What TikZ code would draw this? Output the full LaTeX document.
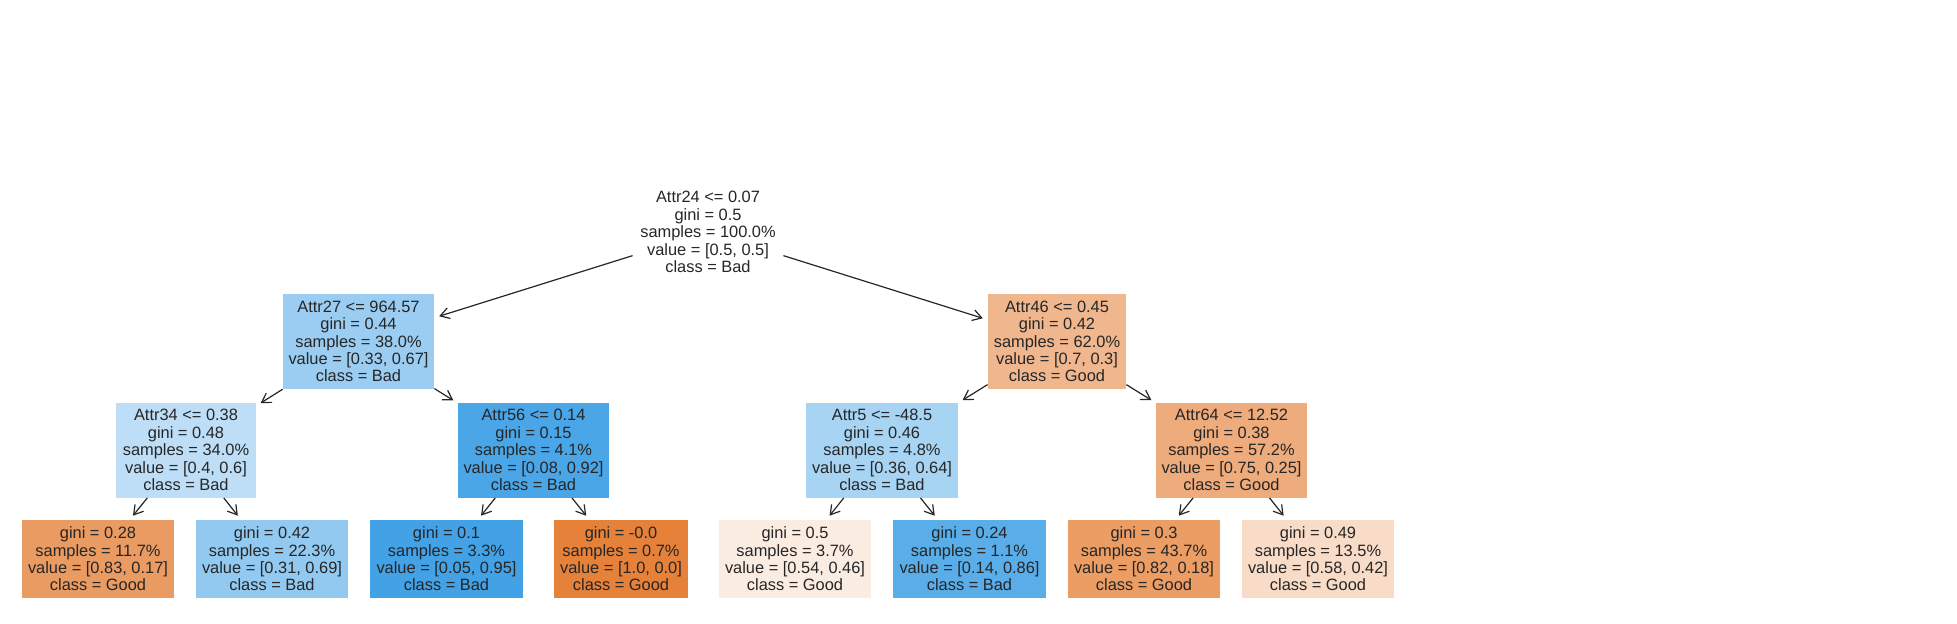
\documentclass[tikz,border=0pt]{standalone}
\usepackage{fontspec}
\setmainfont{Liberation Sans}
\usetikzlibrary{arrows.meta}
\definecolor{txt}{RGB}{38,38,38}
\definecolor{c27}{RGB}{155,205,242}
\definecolor{c46}{RGB}{240,183,142}
\definecolor{c34}{RGB}{189,222,246}
\definecolor{c56}{RGB}{74,166,231}
\definecolor{c5}{RGB}{168,212,244}
\definecolor{c64}{RGB}{238,171,123}
\definecolor{l1c}{RGB}{234,155,98}
\definecolor{l2c}{RGB}{146,201,241}
\definecolor{l3c}{RGB}{67,162,230}
\definecolor{l4c}{RGB}{229,129,57}
\definecolor{l5c}{RGB}{251,236,226}
\definecolor{l6c}{RGB}{89,173,233}
\definecolor{l7c}{RGB}{235,157,100}
\definecolor{l8c}{RGB}{248,220,200}
\begin{document}
\begin{tikzpicture}[x=0.5pt,y=-0.5pt,
  tbox/.style={rectangle, inner sep=0pt, align=center, text=txt,
    font=\fontsize{8.2pt}{8.7pt}\selectfont},
  inner5/.style={tbox, minimum height=47.5pt},
  leafbox/.style={tbox, minimum height=39pt},
  arr/.style={-{Straight Barb[length=4.5pt,width=5.5pt]}, draw=txt,
    line width=0.6pt, shorten >=2.5pt}]
\useasboundingbox (0,0) rectangle (1957,623);
% root
\node[inner5, minimum width=75pt] (root) at (708,232)
  {Attr24 <= 0.07\\gini = 0.5\\samples = 100.0\%\\value = [0.5, 0.5]\\class = Bad};
% level 1
\node[inner5, fill=c27, minimum width=75.5pt] (a27) at (358.5,341.5)
  {Attr27 <= 964.57\\gini = 0.44\\samples = 38.0\%\\value = [0.33, 0.67]\\class = Bad};
\node[inner5, fill=c46, minimum width=69pt] (a46) at (1057,341.5)
  {Attr46 <= 0.45\\gini = 0.42\\samples = 62.0\%\\value = [0.7, 0.3]\\class = Good};
% level 2
\node[inner5, fill=c34, minimum width=70pt] (a34) at (186,450)
  {Attr34 <= 0.38\\gini = 0.48\\samples = 34.0\%\\value = [0.4, 0.6]\\class = Bad};
\node[inner5, fill=c56, minimum width=75.5pt] (a56) at (533.5,450)
  {Attr56 <= 0.14\\gini = 0.15\\samples = 4.1\%\\value = [0.08, 0.92]\\class = Bad};
\node[inner5, fill=c5, minimum width=76pt] (a5) at (882,450)
  {Attr5 <= -48.5\\gini = 0.46\\samples = 4.8\%\\value = [0.36, 0.64]\\class = Bad};
\node[inner5, fill=c64, minimum width=75.5pt] (a64) at (1231.5,450)
  {Attr64 <= 12.52\\gini = 0.38\\samples = 57.2\%\\value = [0.75, 0.25]\\class = Good};
% leaves
\node[leafbox, fill=l1c, minimum width=76pt] (l1) at (98,559)
  {gini = 0.28\\samples = 11.7\%\\value = [0.83, 0.17]\\class = Good};
\node[leafbox, fill=l2c, minimum width=76pt] (l2) at (272,559)
  {gini = 0.42\\samples = 22.3\%\\value = [0.31, 0.69]\\class = Bad};
\node[leafbox, fill=l3c, minimum width=76.5pt] (l3) at (446.5,559)
  {gini = 0.1\\samples = 3.3\%\\value = [0.05, 0.95]\\class = Bad};
\node[leafbox, fill=l4c, minimum width=67pt] (l4) at (621,559)
  {gini = -0.0\\samples = 0.7\%\\value = [1.0, 0.0]\\class = Good};
\node[leafbox, fill=l5c, minimum width=76pt] (l5) at (795,559)
  {gini = 0.5\\samples = 3.7\%\\value = [0.54, 0.46]\\class = Good};
\node[leafbox, fill=l6c, minimum width=76.5pt] (l6) at (969.5,559)
  {gini = 0.24\\samples = 1.1\%\\value = [0.14, 0.86]\\class = Bad};
\node[leafbox, fill=l7c, minimum width=76pt] (l7) at (1144,559)
  {gini = 0.3\\samples = 43.7\%\\value = [0.82, 0.18]\\class = Good};
\node[leafbox, fill=l8c, minimum width=76pt] (l8) at (1318,559)
  {gini = 0.49\\samples = 13.5\%\\value = [0.58, 0.42]\\class = Good};
% edges
\draw[arr] (root) -- (a27);
\draw[arr] (root) -- (a46);
\draw[arr] (a27) -- (a34);
\draw[arr] (a27) -- (a56);
\draw[arr] (a46) -- (a5);
\draw[arr] (a46) -- (a64);
\draw[arr] (a34) -- (l1);
\draw[arr] (a34) -- (l2);
\draw[arr] (a56) -- (l3);
\draw[arr] (a56) -- (l4);
\draw[arr] (a5) -- (l5);
\draw[arr] (a5) -- (l6);
\draw[arr] (a64) -- (l7);
\draw[arr] (a64) -- (l8);
\end{tikzpicture}
\end{document}
